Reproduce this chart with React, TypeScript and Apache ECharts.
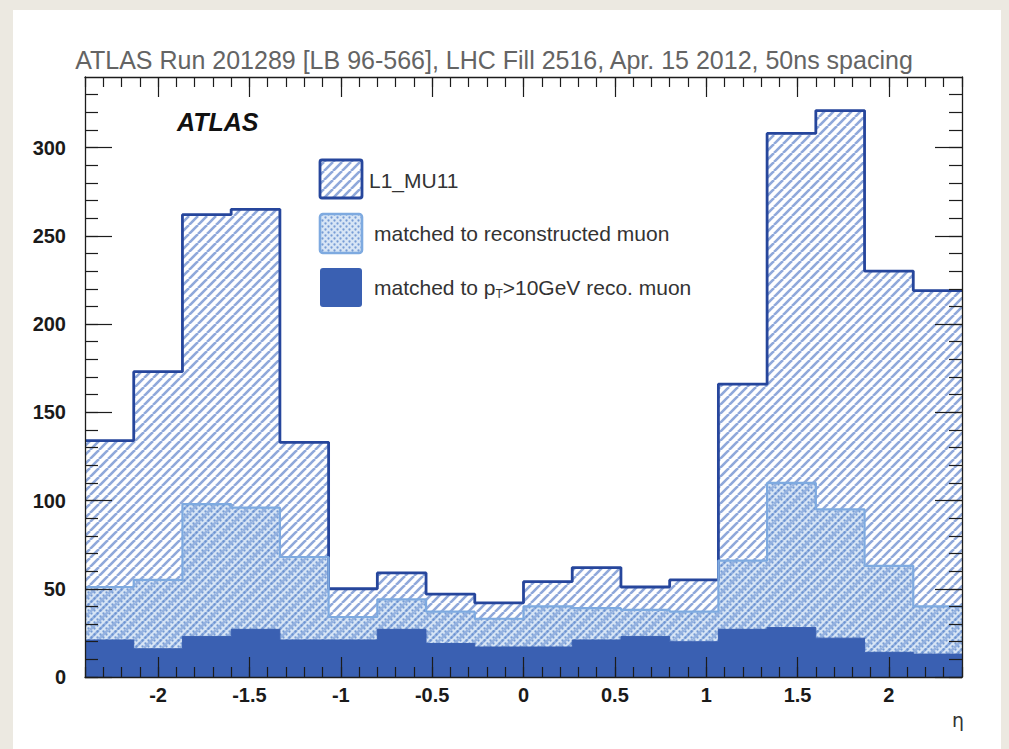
import React, { useEffect, useRef } from "react";
import * as echarts from "echarts";

// Histogram binning in eta (18 equal bins between -2.4 and 2.4)
const etaEdges = [
  -2.4, -2.1333, -1.8667, -1.6, -1.3333, -1.0667, -0.8, -0.5333, -0.2667, 0,
  0.2667, 0.5333, 0.8, 1.0667, 1.3333, 1.6, 1.8667, 2.1333, 2.4,
];

// Entries per bin
const l1Mu11 = [134, 173, 262, 265, 133, 50, 59, 47, 42, 54, 62, 51, 55, 166, 308, 321, 230, 219];
const matchedReco = [51, 55, 98, 96, 68, 34, 44, 37, 33, 40, 39, 38, 37, 66, 110, 95, 63, 40];
const matchedPt10 = [21, 16, 23, 27, 21, 21, 27, 19, 17, 17, 21, 23, 20, 27, 28, 22, 14, 13];

// Axis ticks
const xMajorTicks = [-2, -1.5, -1, -0.5, 0, 0.5, 1, 1.5, 2];
const yMajorTicks = [0, 50, 100, 150, 200, 250, 300];
const xRange = [-2.4, 2.4];
const yRange = [0, 340];

const titleText = "ATLAS Run 201289 [LB 96-566], LHC Fill 2516, Apr. 15 2012, 50ns spacing";
const legendLabels = ["L1_MU11", "matched to reconstructed muon"];

const minorTicks = (from: number, to: number, step: number) => {
  const out: number[] = [];
  const n = Math.round((to - from) / step);
  for (let i = 0; i <= n; i++) out.push(+(from + i * step).toFixed(3));
  return out;
};

// Turn per-bin contents into points for a step ("end") line
const toSteps = (vals: number[]) => {
  const pts = vals.map((v, i) => [etaEdges[i], v]);
  pts.push([etaEdges[vals.length], vals[vals.length - 1]]);
  return pts;
};

function hatchPattern() {
  const p = 9;
  const c = document.createElement("canvas");
  c.width = p;
  c.height = p;
  const ctx = c.getContext("2d")!;
  ctx.fillStyle = "#ffffff";
  ctx.fillRect(0, 0, p, p);
  ctx.strokeStyle = "#8FA8DA";
  ctx.lineWidth = 2.6;
  for (let k = -1; k <= 1; k++) {
    ctx.beginPath();
    ctx.moveTo(k * p, p);
    ctx.lineTo(k * p + p, 0);
    ctx.stroke();
  }
  return { image: c, repeat: "repeat", imageWidth: p, imageHeight: p };
}

function dotPattern() {
  const p = 6;
  const c = document.createElement("canvas");
  c.width = p;
  c.height = p;
  const ctx = c.getContext("2d")!;
  ctx.fillStyle = "rgba(160,192,232,0.42)";
  ctx.fillRect(0, 0, p, p);
  ctx.fillStyle = "rgba(95,138,205,0.8)";
  ctx.beginPath();
  ctx.arc(1.5, 1.5, 1.15, 0, Math.PI * 2);
  ctx.fill();
  ctx.beginPath();
  ctx.arc(4.5, 4.5, 1.15, 0, Math.PI * 2);
  ctx.fill();
  return { image: c, repeat: "repeat", imageWidth: p, imageHeight: p };
}

const DARK = "#26469C";
const LIGHT = "#7EAAE0";
const SOLID = "#3A60B2";
const FRAME = "#1c1c1c";
const FONT = "Liberation Sans";

function buildOption() {
  const hatch = hatchPattern();
  const dots = dotPattern();
  const xMinor = minorTicks(xRange[0], xRange[1], 0.1);
  const yMinor = minorTicks(yRange[0], 330, 10);

  const tickLine = { color: FRAME, width: 1.2 };
  const axisLine = (show: boolean) => ({
    show,
    onZero: false,
    lineStyle: { color: FRAME, width: 1.3 },
  });

  const xAxisBase = (position: string, values: number[], len: number, labels: boolean, line: boolean) => ({
    type: "value",
    min: xRange[0],
    max: xRange[1],
    position,
    z: 10,
    axisLine: axisLine(line),
    axisTick: { show: true, inside: true, length: len, customValues: values, lineStyle: tickLine },
    axisLabel: labels
      ? {
          show: true,
          customValues: values,
          margin: 8,
          color: "#1a1a1a",
          fontFamily: FONT,
          fontWeight: "bold",
          fontSize: 20,
        }
      : { show: false },
    splitLine: { show: false },
  });

  const yAxisBase = (position: string, values: number[], len: number, labels: boolean, line: boolean) => ({
    type: "value",
    min: yRange[0],
    max: yRange[1],
    position,
    z: 10,
    axisLine: axisLine(line),
    axisTick: { show: true, inside: true, length: len, customValues: values, lineStyle: tickLine },
    axisLabel: labels
      ? {
          show: true,
          customValues: values,
          margin: 19,
          color: "#1a1a1a",
          fontFamily: FONT,
          fontWeight: "bold",
          fontSize: 20,
        }
      : { show: false },
    splitLine: { show: false },
  });

  return {
    animation: false,
    backgroundColor: "#ECE9E1",
    grid: { left: 85, right: 47, top: 77, bottom: 72, outerBoundsMode: "none" },
    xAxis: [
      xAxisBase("bottom", xMajorTicks, 20, true, true),
      xAxisBase("bottom", xMinor, 10, false, false),
      xAxisBase("top", xMajorTicks, 20, false, true),
      xAxisBase("top", xMinor, 10, false, false),
    ],
    yAxis: [
      yAxisBase("left", yMajorTicks, 27, true, true),
      yAxisBase("left", yMinor, 13, false, false),
      yAxisBase("right", yMajorTicks, 27, false, true),
      yAxisBase("right", yMinor, 13, false, false),
    ],
    series: [
      {
        name: "L1_MU11",
        type: "line",
        step: "end",
        data: toSteps(l1Mu11),
        showSymbol: false,
        z: 2,
        itemStyle: { color: DARK },
        lineStyle: { color: DARK, width: 2.8 },
        areaStyle: { color: hatch, opacity: 1 },
      },
      {
        name: "matched to reconstructed muon",
        type: "line",
        step: "end",
        data: toSteps(matchedReco),
        showSymbol: false,
        z: 3,
        itemStyle: { color: LIGHT },
        lineStyle: { color: LIGHT, width: 2.2 },
        areaStyle: { color: dots, opacity: 1 },
      },
      {
        name: "matched to pT>10GeV reco. muon",
        type: "line",
        step: "end",
        data: toSteps(matchedPt10),
        showSymbol: false,
        z: 4,
        itemStyle: { color: SOLID },
        lineStyle: { color: SOLID, width: 1 },
        areaStyle: { color: SOLID, opacity: 1 },
      },
    ],
    graphic: [
      {
        type: "rect",
        z: -1,
        silent: true,
        shape: { x: 13, y: 10, width: 988, height: 745 },
        style: { fill: "#ffffff" },
      },
      {
        type: "text",
        x: 494,
        y: 60,
        style: {
          text: titleText,
          textAlign: "center",
          textVerticalAlign: "middle",
          fontFamily: FONT,
          fontSize: 25,
          fill: "#646464",
        },
      },
      {
        type: "text",
        x: 177,
        y: 122,
        style: {
          text: "ATLAS",
          textVerticalAlign: "middle",
          fontFamily: FONT,
          fontSize: 25,
          fontWeight: "bold",
          fontStyle: "italic",
          fill: "#111111",
        },
      },
      {
        type: "text",
        x: 952,
        y: 720,
        style: {
          text: "η",
          textVerticalAlign: "middle",
          fontFamily: "DejaVu Sans",
          fontSize: 19,
          fill: "#333333",
        },
      },
      // Legend
      {
        type: "rect",
        z: 20,
        shape: { x: 320, y: 160, width: 42, height: 38, r: 2 },
        style: { fill: hatch, stroke: DARK, lineWidth: 2.8 },
      },
      {
        type: "text",
        z: 20,
        x: 369,
        y: 180,
        style: {
          text: legendLabels[0],
          textVerticalAlign: "middle",
          fontFamily: FONT,
          fontSize: 21,
          fill: "#333333",
        },
      },
      {
        type: "rect",
        z: 20,
        shape: { x: 320, y: 214, width: 42, height: 39, r: 3 },
        style: { fill: dots, stroke: LIGHT, lineWidth: 2.6 },
      },
      {
        type: "text",
        z: 20,
        x: 374,
        y: 233,
        style: {
          text: legendLabels[1],
          textVerticalAlign: "middle",
          fontFamily: FONT,
          fontSize: 21,
          fill: "#333333",
        },
      },
      {
        type: "rect",
        z: 20,
        shape: { x: 320, y: 268, width: 42, height: 39, r: 3 },
        style: { fill: SOLID },
      },
      {
        type: "text",
        z: 20,
        x: 374,
        y: 287,
        style: {
          text: "{a|matched to p}{s|T}{a|>10GeV reco. muon}",
          textVerticalAlign: "middle",
          rich: {
            a: { fontFamily: FONT, fontSize: 21, fill: "#333333", color: "#333333" },
            s: {
              fontFamily: FONT,
              fontSize: 12,
              fill: "#333333",
              color: "#333333",
              padding: [14, 0, 0, 0],
            },
          },
        },
      },
    ],
  };
}

export default function App() {
  const ref = useRef<HTMLDivElement>(null);
  useEffect(() => {
    const chart = echarts.init(ref.current!, null, { renderer: "svg" });
    chart.setOption(buildOption() as any);
    return () => chart.dispose();
  }, []);
  return (
    <div
      ref={ref}
      style={{ position: "absolute", left: 0, top: 0, width: 1009, height: 749 }}
    />
  );
}
